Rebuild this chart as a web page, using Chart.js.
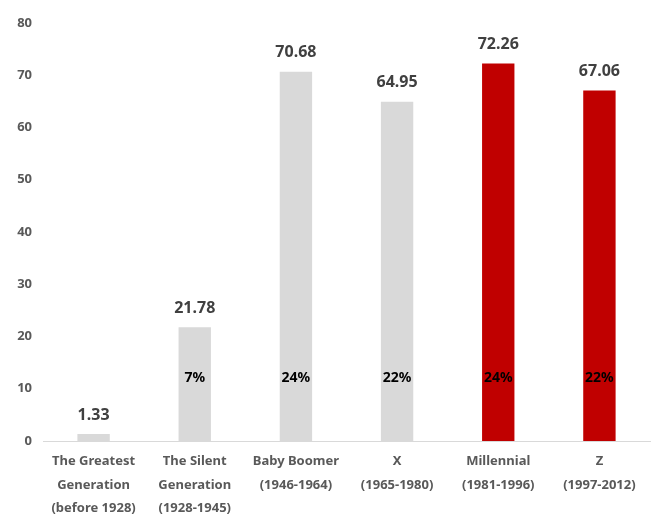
<!DOCTYPE html>
<html>
<head>
<meta charset="utf-8">
<script src="https://cdn.jsdelivr.net/npm/chart.js@4.4.0/dist/chart.umd.min.js"></script>
<style>
  html, body { margin: 0; padding: 0; background: #fff; }
  #box { width: 654px; height: 517px; }
</style>
</head>
<body>
<div id="box"><canvas id="geracoesChart"></canvas></div>
<script>
// gerações e valores
const geracoes = [
    ['The Greatest', 'Generation', '(before 1928)'],
    ['The Silent', 'Generation', '(1928-1945)'],
    ['Baby Boomer', '(1946-1964)'],
    ['X', '(1965-1980)'],
    ['Millennial', '(1981-1996)'],
    ['Z', '(1997-2012)']
];
const valores = [1.33, 21.78, 70.68, 64.95, 72.26, 67.06];
const percentuais = ['', '7%', '24%', '22%', '24%', '22%'];
const coresBarras = ['#D9D9D9', '#D9D9D9', '#D9D9D9', '#D9D9D9', '#C00000', '#C00000'];
const ticksY = [0, 10, 20, 30, 40, 50, 60, 70, 80];

const fonte = "'Noto Sans', 'Open Sans', sans-serif";

// desenha o valor acima da barra e o percentual dentro dela
const rotulosPlugin = {
    id: 'rotulos',
    afterDatasetsDraw(chart) {
        const ctx = chart.ctx;
        const meta = chart.getDatasetMeta(0);
        const escalaY = chart.scales.y;
        ctx.save();
        ctx.textAlign = 'center';
        ctx.textBaseline = 'middle';
        meta.data.forEach((bar, i) => {
            ctx.fillStyle = '#404040';
            ctx.font = 'bold 16px ' + fonte;
            ctx.fillText(valores[i].toFixed(2), bar.x, bar.y - 19);
            if (percentuais[i]) {
                ctx.fillStyle = '#000';
                ctx.font = 'bold 14px ' + fonte;
                ctx.fillText(percentuais[i], bar.x, escalaY.getPixelForValue(12.1));
            }
        });
        ctx.restore();
    }
};

const ctx = document.getElementById('geracoesChart').getContext('2d');
const geracoesChart = new Chart(ctx, {
    type: 'bar',
    data: {
        labels: geracoes,
        datasets: [{
            data: valores,
            backgroundColor: coresBarras,
            barPercentage: 0.32,
            categoryPercentage: 1
        }]
    },
    options: {
        responsive: true,
        maintainAspectRatio: false,
        animation: false,
        layout: { padding: { top: 23, right: 4, bottom: 0, left: 0 } },
        plugins: {
            legend: { display: false },
            tooltip: { enabled: false }
        },
        scales: {
            y: {
                min: 0,
                max: 80,
                afterBuildTicks: (scale) => {
                    scale.ticks = ticksY.map(v => ({ value: v }));
                },
                afterFit: (scale) => { scale.width = 43; },
                grid: { display: false, drawTicks: false },
                border: { display: false },
                ticks: {
                    color: '#595959',
                    padding: 11,
                    font: { family: fonte, size: 13, weight: 'bold' }
                }
            },
            x: {
                afterFit: (scale) => { scale.height = 76; },
                grid: { display: false, drawTicks: false },
                border: { display: true, color: '#D9D9D9', width: 1 },
                ticks: {
                    color: '#595959',
                    padding: 9,
                    maxRotation: 0,
                    autoSkip: false,
                    font: { family: fonte, size: 13, weight: 'bold', lineHeight: 1.8 }
                }
            }
        }
    },
    plugins: [rotulosPlugin]
});
</script>
</body>
</html>
